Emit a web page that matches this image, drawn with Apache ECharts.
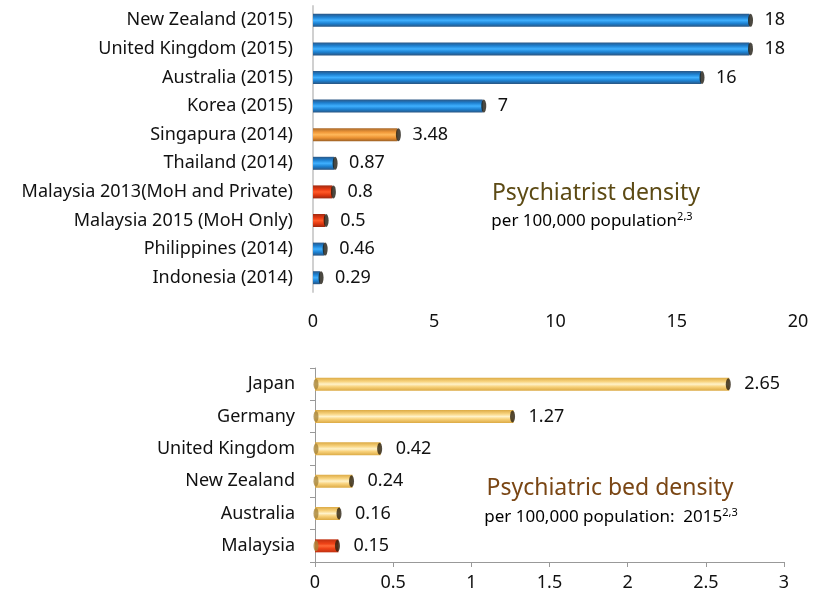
<!DOCTYPE html>
<html><head><meta charset="utf-8">
<script src="https://cdn.jsdelivr.net/npm/echarts@6/dist/echarts.min.js"></script>
<style>html,body{margin:0;padding:0;background:#fff}#c{width:827px;height:600px}</style>
</head><body><div id="c"></div>
<script>
const docCategories = ["New Zealand (2015)","United Kingdom (2015)","Australia (2015)","Korea (2015)","Singapura (2014)","Thailand (2014)","Malaysia 2013(MoH and Private)","Malaysia 2015 (MoH Only)","Philippines (2014)","Indonesia (2014)"];
const docValues = [18,18,16,7,3.48,0.87,0.8,0.5,0.46,0.29];
const docLabels = ["18","18","16","7","3.48","0.87","0.8","0.5","0.46","0.29"];
const docTicks = [0,5,10,15,20];

const bedCategories = ["Japan","Germany","United Kingdom","New Zealand","Australia","Malaysia"];
const bedValues = [2.65,1.27,0.42,0.24,0.16,0.15];
const bedLabels = ["2.65","1.27","0.42","0.24","0.16","0.15"];
const bedTicks = [0,0.5,1,1.5,2,2.5,3];

const FONT = '"Noto Sans", sans-serif';
const G = (stops) => new echarts.graphic.LinearGradient(0,0,0,1, stops.map((c)=>({offset:c[0],color:c[1]})));
const blue = G([[0,'#2b5785'],[0.25,'#1d7fcf'],[0.5,'#3fb0ff'],[0.75,'#1c80d0'],[1,'#2a5480']]);
const orange = G([[0,'#a8682a'],[0.3,'#f09838'],[0.5,'#ffb85a'],[0.75,'#ea9030'],[1,'#9c6024']]);
const red = G([[0,'#a02a10'],[0.3,'#e83a12'],[0.5,'#ff5a28'],[0.75,'#e03810'],[1,'#982810']]);
const yellow = G([[0,'#dcaa44'],[0.3,'#f8d480'],[0.5,'#fff2c8'],[0.7,'#f8d27c'],[1,'#dcaa44']]);
const redB = G([[0,'#c03010'],[0.35,'#f04418'],[0.5,'#ff6a38'],[0.7,'#f04418'],[1,'#c03010']]);

function docColor(name){ if(name.indexOf('Malaysia')>=0) return red; if(name.indexOf('Singapura')>=0) return orange; return blue; }
function bedColor(name){ return name==='Malaysia' ? redB : yellow; }

const chart = echarts.init(document.getElementById('c'), null, {renderer:'canvas'});
const labelStyle = {fontFamily:FONT, fontSize:18, color:'#111'};

chart.setOption({
  animation:false,
  grid:[
    {left:313, right:29, top:6, height:286},
    {left:315, right:43, top:368, height:194}
  ],
  xAxis:[
    {gridIndex:0, type:'value', min:0, max:20, interval:5, axisLine:{show:false}, axisTick:{show:false}, splitLine:{show:false},
     axisLabel:{...labelStyle, margin:21}},
    {gridIndex:1, type:'value', min:0, max:3, interval:0.5, axisLine:{show:true, lineStyle:{color:'#999'}}, axisTick:{show:true, length:5, lineStyle:{color:'#999'}}, splitLine:{show:false},
     axisLabel:{...labelStyle, margin:12}}
  ],
  yAxis:[
    {gridIndex:0, type:'category', inverse:true, data:docCategories, axisLine:{show:true, lineStyle:{color:'#d0d0d0', width:2}}, axisTick:{show:false},
     axisLabel:{...labelStyle, margin:20}},
    {gridIndex:1, type:'category', inverse:true, data:bedCategories, axisLine:{show:true, lineStyle:{color:'#999'}}, axisTick:{show:true, length:5, lineStyle:{color:'#999'}},
     axisLabel:{...labelStyle, margin:20}}
  ],
  series:[
    {type:'bar', xAxisIndex:0, yAxisIndex:0, barWidth:13,
     data: docValues.map((v,i)=>({value:v, itemStyle:{color:docColor(docCategories[i])}})),
     label:{show:true, position:'right', distance:15, ...labelStyle, formatter:(p)=>docLabels[p.dataIndex]}},
    {type:'scatter', xAxisIndex:0, yAxisIndex:0, symbol:'circle', symbolSize:[5,13], symbolOffset:[1,0], z:5,
     itemStyle:{color:'#1e1a10'}, data: docValues.map((v,i)=>[v, docCategories[i]])},
    {type:'bar', xAxisIndex:1, yAxisIndex:1, barWidth:13,
     data: bedValues.map((v,i)=>({value:v, itemStyle:{color:bedColor(bedCategories[i])}})),
     label:{show:true, position:'right', distance:15, ...labelStyle, formatter:(p)=>bedLabels[p.dataIndex]}},
    {type:'scatter', xAxisIndex:1, yAxisIndex:1, symbol:'circle', symbolSize:[5,12], symbolOffset:[-1,0], z:5,
     itemStyle:{color:'#2a2010'}, data: bedValues.map((v,i)=>[v, bedCategories[i]])},
    {type:'scatter', xAxisIndex:1, yAxisIndex:1, symbol:'circle', symbolSize:[5,11], symbolOffset:[1,0], z:5,
     itemStyle:{color:'#a8843a'}, data: bedValues.map((v,i)=>[0, bedCategories[i]])}
  ],
  graphic:[
    {type:'text', x:596, y:193, style:{text:'Psychiatrist density', font:'23px '+FONT, fill:'#5c4a14', align:'center', verticalAlign:'middle'}},
    {type:'text', x:592, y:221, style:{text:'{a|per 100,000 population}{s|2,3}', align:'center', verticalAlign:'middle',
      rich:{a:{fontFamily:FONT, fontSize:17, color:'#5c4a14'}, s:{fontFamily:FONT, fontSize:11, color:'#5c4a14', verticalAlign:'top', padding:[0,0,9,0]}}}},
    {type:'text', x:610, y:488, style:{text:'Psychiatric bed density', font:'23px '+FONT, fill:'#7a4614', align:'center', verticalAlign:'middle'}},
    {type:'text', x:611, y:517, style:{text:'{a|per 100,000 population:  2015}{s|2,3}', align:'center', verticalAlign:'middle',
      rich:{a:{fontFamily:FONT, fontSize:17, color:'#7a4614'}, s:{fontFamily:FONT, fontSize:11, color:'#7a4614', verticalAlign:'top', padding:[0,0,9,0]}}}}
  ]
});
</script></body></html>
